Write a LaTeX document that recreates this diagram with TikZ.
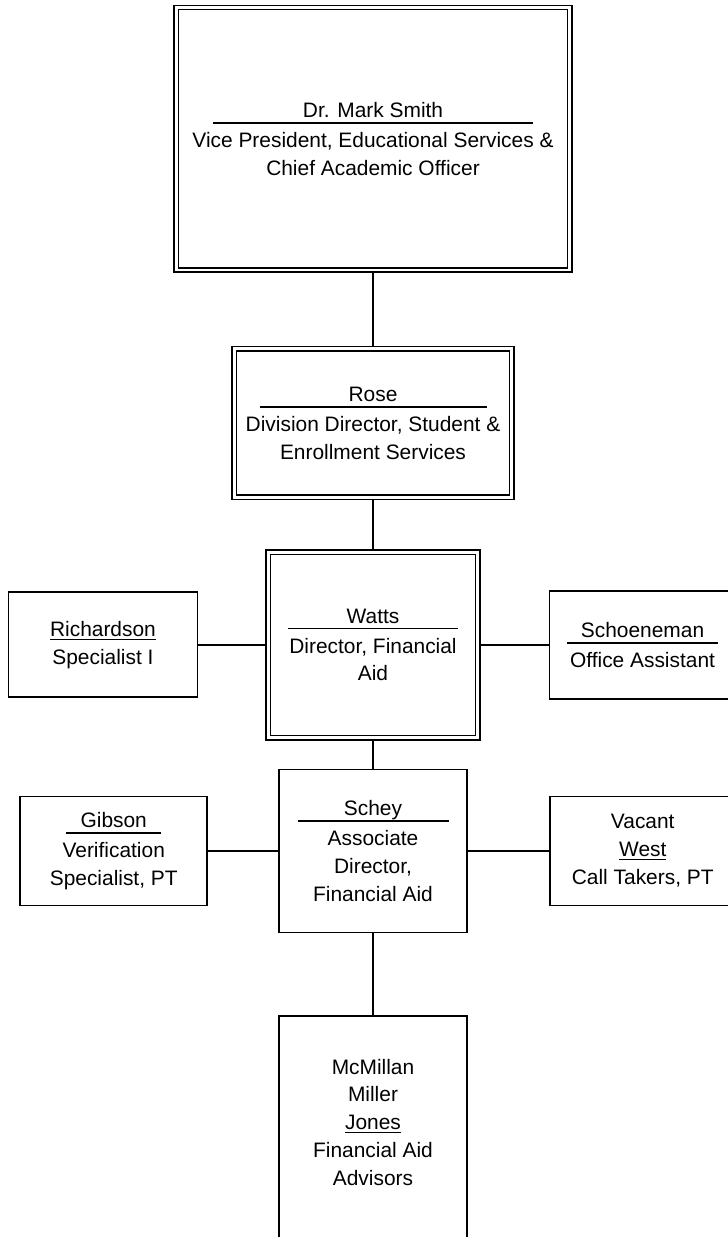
\documentclass[tikz,border=0pt]{standalone}
\usepackage{fontspec}
\setmainfont{Liberation Sans}
\usetikzlibrary{positioning,calc}
\newcommand{\namerule}[2]{\rlap{\rule[-3.6pt]{#1}{0.8pt}}\makebox[#1]{#2}}

\begin{document}
\begin{tikzpicture}[
    every node/.style={font=\fontsize{11.9}{15.8}\selectfont},
    box/.style={rectangle, draw, line width=1pt, align=center, inner sep=2pt, minimum width=#1},
    box/.default=3.76cm,
    dbox/.style={box=#1, double, double distance=1.7pt, line width=0.8pt, outer sep=1.65pt},
    plain/.style={align=center, inner sep=0pt},
    link/.style={line width=1pt},
]
\useasboundingbox (0,0) rectangle (14.56,-24.74);
\clip (0,0) rectangle (14.56,-24.74);
\node[dbox=7.87cm, minimum height=5.25cm] (smith) at (7.46,-2.775) {\namerule{6.4cm}{Dr. Mark Smith}\\[1.3pt] Vice President, Educational Services \&\\ Chief Academic Officer};
\node[dbox=5.55cm, minimum height=2.97cm, below=1.46cm of smith] (rose) {\namerule{4.54cm}{Rose}\\[1.3pt] Division Director, Student \&\\ Enrollment Services};
\node[dbox=4.19cm, minimum height=3.71cm, below=0.98cm of rose] (watts) {\namerule{3.4cm}{Watts}\\[1.3pt] Director, Financial\\ Aid};
\node[box=3.78cm, minimum height=2.1cm, left=1.34cm of watts] (richardson) {\underline{Richardson}\\ Specialist I};
\node[box=3.72cm, minimum height=2.16cm, right=1.36cm of watts] (schoeneman) {\namerule{3.02cm}{Schoeneman}\\[1.3pt] Office Assistant};
\node[box=3.76cm, minimum height=3.26cm, below=0.56cm of watts] (schey) {\namerule{3.02cm}{Schey}\\[1.3pt] Associate\\ Director,\\ Financial Aid};
\node[box=3.74cm, minimum height=2.18cm, left=1.4cm of schey] (gibson) {\namerule{1.9cm}{Gibson}\\[1.3pt] Verification\\ Specialist, PT};
\node[box=3.72cm, minimum height=2.18cm, right=1.62cm of schey] (vacant) {Vacant\\ \underline{West}\\ Call Takers, PT};
\node[box=3.76cm, minimum height=4.8cm, below=1.64cm of schey] (advisors) {};
\node[plain] (advtext) at ($(advisors.north)+(0,-2.14)$) {McMillan\\ Miller\\ \underline{Jones}\\ Financial Aid\\ Advisors};
\draw[link] (smith.south) -- (rose.north);
\draw[link] (rose.south) -- (watts.north);
\draw[link] (richardson.east) -- (watts.west);
\draw[link] (watts.east) -- (schoeneman.west);
\draw[link] (watts.south) -- (schey.north);
\draw[link] (gibson.east) -- (schey.west);
\draw[link] (schey.east) -- (vacant.west);
\draw[link] (schey.south) -- (advisors.north);
\end{tikzpicture}
\end{document}
